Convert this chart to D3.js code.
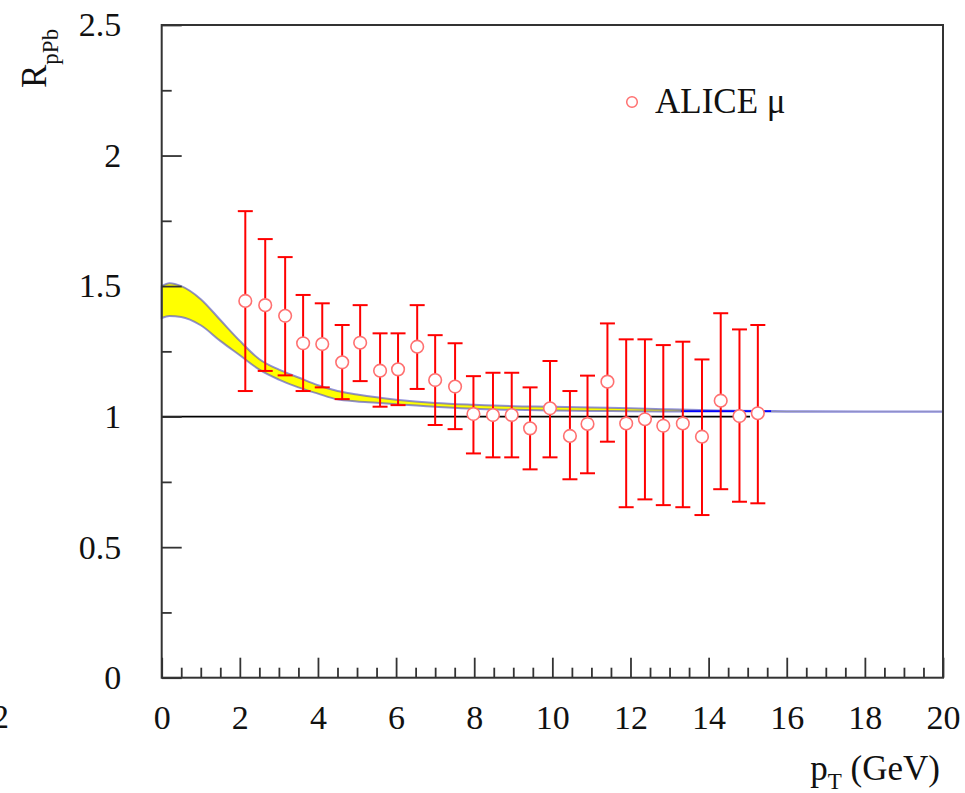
<!DOCTYPE html>
<html>
<head>
<meta charset="utf-8">
<script src="https://cdn.jsdelivr.net/npm/d3@7"></script>
<style>
  body { margin: 0; background: #fff; }
  svg text { font-family: "Liberation Serif", "Times New Roman", serif; fill: #111; }
</style>
</head>
<body>
<div class="svg-container"></div>
<script>
// ALICE muon points
var ptValues  = [2.14, 2.65, 3.16, 3.62, 4.11, 4.62, 5.08, 5.59, 6.05, 6.54, 7.0, 7.51, 7.98, 8.48,
                 8.96, 9.43, 9.94, 10.45, 10.9, 11.41, 11.89, 12.37, 12.84, 13.34, 13.83, 14.31, 14.79, 15.26];
var rValues   = [1.443, 1.427, 1.386, 1.281, 1.278, 1.208, 1.283, 1.176, 1.181, 1.268, 1.14, 1.115, 1.01, 1.006,
                 1.006, 0.955, 1.032, 0.926, 0.972, 1.134, 0.974, 0.99, 0.965, 0.974, 0.923, 1.061, 1.002, 1.013];
var rHigh     = [1.787, 1.68, 1.611, 1.466, 1.434, 1.351, 1.427, 1.319, 1.319, 1.427, 1.312, 1.281, 1.155, 1.168,
                 1.168, 1.112, 1.213, 1.098, 1.157, 1.357, 1.296, 1.296, 1.274, 1.287, 1.219, 1.396, 1.334, 1.351];
var rLow      = [1.098, 1.175, 1.158, 1.098, 1.112, 1.067, 1.136, 1.038, 1.044, 1.106, 0.968, 0.952, 0.859, 0.844,
                 0.844, 0.798, 0.844, 0.76, 0.783, 0.904, 0.653, 0.683, 0.661, 0.653, 0.623, 0.722, 0.674, 0.668];

// theory band
var bandX  = [0, 0.2, 0.5, 1, 1.5, 2, 2.5, 3, 3.5, 4, 4.5, 5, 5.5, 6, 7, 8, 9, 10, 11, 12, 13, 14, 16, 18, 20];
var bandHi = [1.50, 1.511, 1.50, 1.45, 1.37, 1.29, 1.22, 1.18, 1.15, 1.12, 1.098, 1.085, 1.074, 1.065,
              1.052, 1.045, 1.04, 1.038, 1.035, 1.032, 1.028, 1.024, 1.021, 1.02, 1.02];
var bandLo = [1.378, 1.385, 1.382, 1.35, 1.29, 1.235, 1.18, 1.142, 1.112, 1.088, 1.066, 1.058, 1.053, 1.047,
              1.038, 1.03, 1.026, 1.023, 1.022, 1.021, 1.02, 1.02, 1.019, 1.019, 1.019];
var blueLineX = [13.3, 15.6], blueLineY = [1.021, 1.021];
var unityX = [0, 15.06];

var xTicks = [0, 2, 4, 6, 8, 10, 12, 14, 16, 18, 20];
var yTicks = [0, 0.5, 1, 1.5, 2, 2.5];

var w = 965, h = 793;
var padL = 161.7, padR = 943, padT = 25, padB = 677.7;

var svg = d3.select(".svg-container").append("svg")
            .attr("width", w).attr("height", h);

var xScale = d3.scaleLinear().domain([0, 20]).range([padL, padR]);
var yScale = d3.scaleLinear().domain([0, 2.5]).range([padB, padT]);

// band
var band = bandX.map(function(x, i){ return [x, bandLo[i], bandHi[i]]; });
svg.append("path")
   .datum(band)
   .attr("d", d3.area().x(d => xScale(d[0])).y0(d => yScale(d[1])).y1(d => yScale(d[2])).curve(d3.curveMonotoneX))
   .attr("fill", "#ffff00")
   .attr("stroke", "rgba(85,85,205,0.65)")
   .attr("stroke-width", 2);

svg.append("path")
   .datum(blueLineX.map((x, i) => [x, blueLineY[i]]))
   .attr("d", d3.line().x(d => xScale(d[0])).y(d => yScale(d[1])))
   .attr("stroke", "#0000ff").attr("stroke-width", 1.6).attr("fill", "none");

// unity line
svg.append("line")
   .attr("x1", xScale(unityX[0])).attr("x2", xScale(unityX[1]))
   .attr("y1", yScale(1)).attr("y2", yScale(1))
   .attr("stroke", "#000").attr("stroke-width", 1.8);

// axes
var xMajor = d3.axisBottom(xScale).tickValues(xTicks).tickSizeInner(-20).tickSizeOuter(0).tickPadding(27);
var xMinor = d3.axisBottom(xScale).tickValues(d3.range(0, 20.01, 0.5).filter(v => v % 2 !== 0))
               .tickSizeInner(-10).tickSizeOuter(0).tickFormat("");
var yMajor = d3.axisLeft(yScale).tickValues(yTicks).tickSizeInner(-20).tickSizeOuter(0).tickPadding(40.5)
               .tickFormat(d3.format("~g"));
var yMinor = d3.axisLeft(yScale).tickValues([0.25, 0.75, 1.25, 1.75, 2.25])
               .tickSizeInner(-10).tickSizeOuter(0).tickFormat("");

[xMajor, xMinor].forEach(function(ax){
  svg.append("g").attr("transform", "translate(0," + padB + ")").call(ax);
});
[yMajor, yMinor].forEach(function(ax){
  svg.append("g").attr("transform", "translate(" + padL + ",0)").call(ax);
});
svg.selectAll(".domain").remove();
svg.selectAll(".tick line").attr("stroke", "#333").attr("stroke-width", 1.8);
svg.selectAll(".tick text").style("font-size", "34px").attr("fill", "#111");

// frame
svg.append("rect")
   .attr("x", padL).attr("y", padT)
   .attr("width", padR - padL).attr("height", padB - padT)
   .attr("fill", "none").attr("stroke", "#333").attr("stroke-width", 2);

// error bars
var pts = ptValues.map(function(x, i){ return {x: x, y: rValues[i], lo: rLow[i], hi: rHigh[i]}; });
var capW = 7.5;
var eg = svg.append("g").attr("stroke", "#ff0000").attr("stroke-width", 2);
eg.selectAll(".ev").data(pts).enter().append("line")
  .attr("x1", d => xScale(d.x)).attr("x2", d => xScale(d.x))
  .attr("y1", d => yScale(d.lo)).attr("y2", d => yScale(d.hi));
eg.selectAll(".ct").data(pts).enter().append("line")
  .attr("x1", d => xScale(d.x) - capW).attr("x2", d => xScale(d.x) + capW)
  .attr("y1", d => yScale(d.hi)).attr("y2", d => yScale(d.hi));
eg.selectAll(".cb").data(pts).enter().append("line")
  .attr("x1", d => xScale(d.x) - capW).attr("x2", d => xScale(d.x) + capW)
  .attr("y1", d => yScale(d.lo)).attr("y2", d => yScale(d.lo));

svg.selectAll("circle.pt").data(pts).enter().append("circle")
   .attr("class", "pt")
   .attr("cx", d => xScale(d.x)).attr("cy", d => yScale(d.y))
   .attr("r", 6.3)
   .attr("fill", "#fff").attr("stroke", "#ff7070").attr("stroke-width", 1.6);

// legend
svg.append("circle").attr("cx", 632).attr("cy", 102).attr("r", 5.3)
   .attr("fill", "#fff").attr("stroke", "#ff7070").attr("stroke-width", 1.5);
svg.append("text").attr("x", 655).attr("y", 113).style("font-size", "35px").text("ALICE μ");

// axis titles
var yt = svg.append("text").attr("transform", "translate(46,88) rotate(-90)");
yt.append("tspan").style("font-size", "35px").text("R");
yt.append("tspan").style("font-size", "23px").attr("dy", 12).text("pPb");

var xt = svg.append("text").attr("x", 940).attr("y", 780).attr("text-anchor", "end");
xt.append("tspan").style("font-size", "35px").text("p");
xt.append("tspan").style("font-size", "23px").attr("dy", 9).text("T");
xt.append("tspan").style("font-size", "35px").attr("dy", -9).text(" (GeV)");

// clipped label at the left edge
svg.append("text").attr("x", 9).attr("y", 728).attr("text-anchor", "end")
   .style("font-size", "34px").text("2");
</script>
</body>
</html>
